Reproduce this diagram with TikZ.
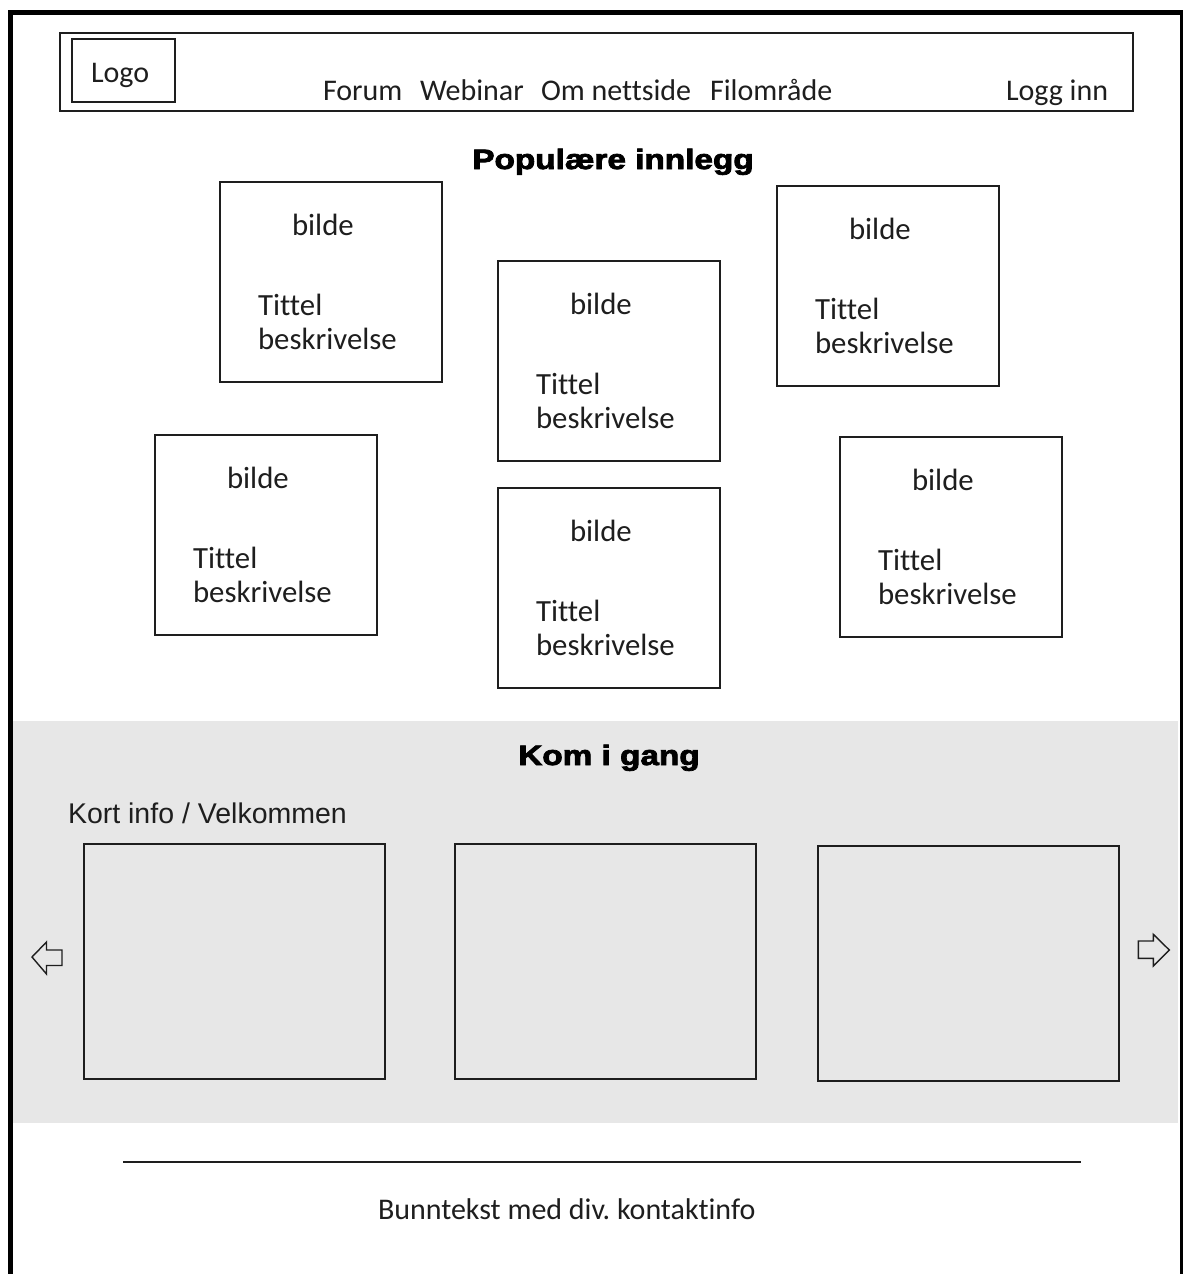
\documentclass[tikz,border=0pt]{standalone}
\usepackage{fontspec}
\setmainfont{Carlito}[Ligatures={NoCommon}]
\newfontfamily\arialfont{Liberation Sans}
\newfontfamily\heavyfont[FakeBold=2.6]{Liberation Sans Bold}
\usetikzlibrary{calc}
\frenchspacing
\definecolor{band}{RGB}{231,231,231}
\definecolor{ink}{RGB}{30,30,30}
\tikzset{
  box/.style={draw=ink, line width=1.5pt, inner sep=0pt, outer sep=0pt, anchor=north west},
  postbox/.style={box, minimum width=222pt, minimum height=200pt},
  slide/.style={box, minimum width=301pt, minimum height=235pt},
  txt/.style={inner sep=0pt, outer sep=0pt, anchor=base west, text=ink, font=\fontsize{30}{36}\selectfont},
  posttxt/.style={txt, font=\fontsize{30.8}{36}\selectfont},
  heading/.style={inner sep=0pt, anchor=base, text=black, font=\heavyfont\fontsize{28}{34}\selectfont},
  navarrow/.style={draw=ink, line width=1.4pt, line join=miter},
}
\newcommand\mkpost[3]{%
  \node[postbox] (#1) at (#2,#3) {};
  \node[posttxt] (#1b) at ($(#1.north west)+(72,53)$) {bilde};
  \node[posttxt] (#1t) at ($(#1.north west)+(38,133)$) {Tittel};
  \node[posttxt] (#1d) at ($(#1.north west)+(38,167)$) {beskrivelse};
}
\begin{document}
\begin{tikzpicture}[x=1pt,y=-1pt]
\useasboundingbox (0,0) rectangle (1183,1274);
% grey band
\fill[band] (13,721) rectangle (1178,1123);
% outer frame
\draw[line width=5pt, line cap=rect] (10,1280) -- (10,12) -- (1181,12);
\draw[line width=2.5pt] (1181.5,12) -- (1181.5,1280);
% header
\node[box, minimum width=1073pt, minimum height=78pt] (header) at (60,33) {};
\node[box, minimum width=103pt, minimum height=63pt] (logo) at (72,39) {};
\node[txt] (logotxt) at (91,82) {Logo};
\node[txt] (forum) at (323,100) {Forum};
\node[txt] (webinar) at (420,100) {Webinar};
\node[txt] (om) at (541,100) {Om nettside};
\node[txt] (filomr) at (710,100) {Filområde};
\node[txt] (logg) at (1006,100) {Logg inn};
% popular posts
\node[heading] (pop) at (613,169) {\scalebox{1.19}[1]{Populære innlegg}};
\mkpost{p1}{220}{182}
\mkpost{p2}{498}{261}
\mkpost{p3}{777}{186}
\mkpost{p4}{155}{435}
\mkpost{p5}{498}{488}
\mkpost{p6}{840}{437}
% get started
\node[heading] (kom) at (609,765) {\scalebox{1.19}[1]{Kom i gang}};
\node[txt, font=\arialfont\fontsize{28.5}{34}\selectfont] (kort) at (68,823) {Kort info / Velkommen};
\node[slide] (s1) at (84,844) {};
\node[slide] (s2) at (455,844) {};
\node[slide] (s3) at (818,846) {};
% carousel arrows
\draw[navarrow] (32,957) -- (46.5,942) -- (46.5,950) -- (62,950) -- (62,965.5) -- (46.5,965.5) -- (46.5,974) -- cycle;
\draw[navarrow] (1169.3,950) -- (1153.3,934.3) -- (1153.3,941) -- (1138.3,941) -- (1138.3,958.3) -- (1153.3,958.3) -- (1153.3,966) -- cycle;
% footer
\coordinate (fl) at (123,1162);
\coordinate (fr) at (1081,1162);
\draw[ink, line width=1.5pt] (fl) -- (fr);
\node[txt] (foot) at (378,1219) {Bunntekst med div. kontaktinfo};
\end{tikzpicture}
\end{document}
